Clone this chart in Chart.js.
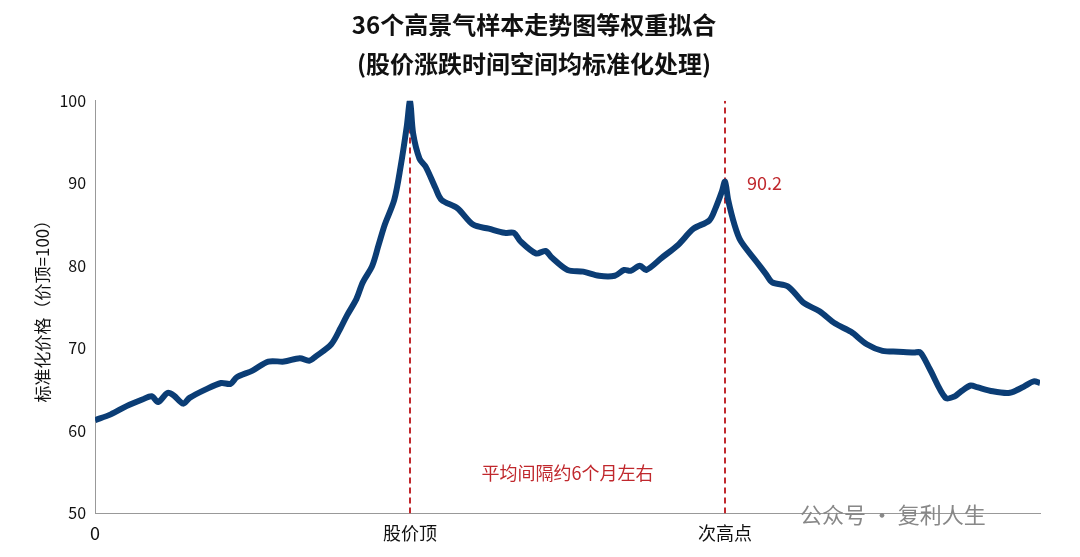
<!DOCTYPE html>
<html><head><meta charset="utf-8">
<script src="https://cdn.jsdelivr.net/npm/chart.js@4/dist/chart.umd.min.js"></script>
<style>html,body{margin:0;background:#fff}</style>
</head><body><canvas id="c" width="1080" height="557"></canvas>
<script>
const xs=[0,5,10,15,18,20,23,25,28,30,35,40,43,45,50,55,60,65,68,70,75,78,80,83,85,88,90,92,95,97,99,100,101,103,105,108,110,115,120,125,130,133,135,140,143,145,150,155,160,165,168,170,173,175,180,185,190,195,197,199,200,201,203,205,210,213,215,220,225,230,235,240,245,250,255,260,262,265,270,273,275,278,280,285,290,293,295,298,300];
const ys=[61.3,62,63,63.8,64.2,63.5,64.6,64.3,63.3,64,65,65.8,65.7,66.5,67.3,68.4,68.4,68.8,68.5,69,70.5,72.5,74,76,78,80,82.5,85,88,92,97,100,96,93,92,89.5,88,87,85,84.5,84,84,83,81.5,81.8,81,79.5,79.3,78.8,78.8,79.5,79.4,80,79.5,81,82.5,84.5,85.5,87,89,90.2,88,85,83,80.5,79,78,77.5,75.5,74.5,73,72,70.5,69.7,69.6,69.5,69.5,67.5,64,64.2,64.8,65.5,65.3,64.8,64.6,65,65.4,66,65.8];
const xLabels={0:'0',100:'股价顶',200:'次高点'};
const markX=[100,200];
const peak2='90.2', note='平均间隔约6个月左右', mark='公众号 · 复利人生';
const red='#c0282d';
const txt={id:'txt',afterDraw(ch){const c=ch.ctx,x=ch.scales.x,y=ch.scales.y;c.save();
c.fillStyle=red;c.font='18px "Noto Sans CJK SC"';c.textBaseline='middle';
c.fillText(peak2,x.getPixelForValue(207),y.getPixelForValue(90));
c.textAlign='center';c.fillText(note,x.getPixelForValue(150),y.getPixelForValue(54.9));
c.fillStyle='#888';c.font='22px "Noto Sans CJK SC"';c.textAlign='left';c.fillText(mark,800,515);
c.restore();}};
new Chart(document.getElementById('c'),{type:'scatter',
data:{datasets:[
{data:xs.map((v,i)=>({x:v,y:ys[i]})),showLine:true,borderColor:'#0b3d75',borderWidth:6,pointRadius:0,tension:0.3},
...markX.map(m=>({data:[{x:m,y:50},{x:m,y:100}],showLine:true,borderColor:red,borderWidth:2,borderDash:[6,4],pointRadius:0}))
]},
options:{animation:false,responsive:false,devicePixelRatio:1,
layout:{padding:{left:28,right:40,top:0,bottom:10}},
plugins:{legend:{display:false},tooltip:{enabled:false},
title:{display:true,text:['36个高景气样本走势图等权重拟合','(股价涨跌时间空间均标准化处理)'],color:'#111',font:{size:24,weight:'bold',family:'"Noto Sans CJK SC"',lineHeight:1.6},padding:{top:6,bottom:18}}},
scales:{
x:{type:'linear',min:0,max:300,afterBuildTicks(a){a.ticks=[0,50,100,150,200,250,300].map(v=>({value:v}));},
grid:{display:false,drawTicks:true,tickLength:6,color:'#999'},border:{color:'#999'},
ticks:{autoSkip:false,maxRotation:0,color:'#111',font:{size:18,family:'"Noto Sans CJK SC"'},callback:v=>xLabels[v]??''}},
y:{min:50,max:100,ticks:{stepSize:10,color:'#111',font:{size:16,family:'"Noto Sans CJK SC"'}},
grid:{display:false,tickLength:6},border:{color:'#999'},
title:{display:true,text:'标准化价格（价顶=100）',color:'#111',font:{size:17,family:'"Noto Sans CJK SC"'}}}}},
plugins:[txt]});
</script></body></html>
